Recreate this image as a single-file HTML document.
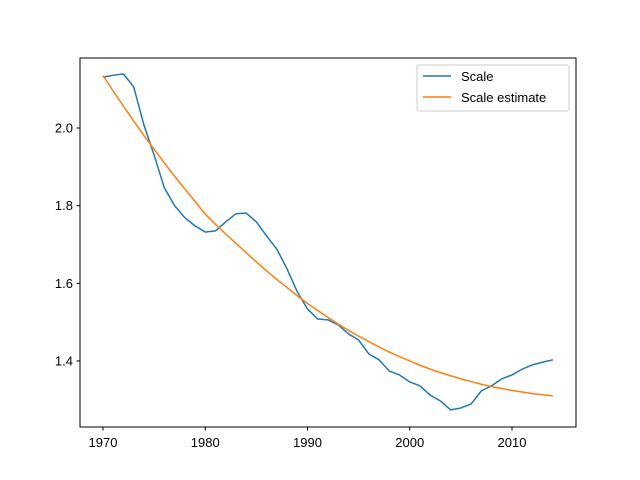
<!DOCTYPE html>
<html><head><meta charset="utf-8"><style>
body{margin:0;background:#fff}
svg{display:block;font-family:"Liberation Sans","DejaVu Sans",sans-serif}
</style></head><body>
<svg id="chart" width="640" height="480">
<rect x="0" y="0" width="640" height="480" fill="#fff"/>
<g id="plot"></g>
<rect x="80" y="58" width="496" height="369" fill="none" stroke="#000" stroke-width="1"/>
<g>
<rect x="417" y="65" width="152" height="46" rx="2" fill="#fff" fill-opacity="0.8" stroke="#ccc"/>
<g><line x1="423" y1="76" x2="451" y2="76" stroke="#1f77b4" stroke-width="1.5"/><text x="461" y="81" font-size="13">Scale</text></g>
<g><line x1="423" y1="97" x2="451" y2="97" stroke="#ff7f0e" stroke-width="1.5"/><text x="461" y="102" font-size="13">Scale estimate</text></g>
</g>
</svg>
<script>
const years=[1970,1971,1972,1973,1974,1975,1976,1977,1978,1979,1980,1981,1982,1983,1984,1985,1986,1987,1988,1989,1990,1991,1992,1993,1994,1995,1996,1997,1998,1999,2000,2001,2002,2003,2004,2005,2006,2007,2008,2009,2010,2011,2012,2013,2014];
const scale=[2.131,2.136,2.139,2.106,2.008,1.930,1.846,1.800,1.769,1.748,1.732,1.735,1.758,1.779,1.781,1.758,1.722,1.688,1.637,1.578,1.534,1.508,1.506,1.493,1.470,1.454,1.418,1.403,1.374,1.364,1.346,1.336,1.312,1.297,1.274,1.279,1.289,1.323,1.336,1.354,1.364,1.379,1.390,1.397,1.403];
const scaleEstimate=[2.135,2.095,2.056,2.018,1.981,1.945,1.910,1.876,1.843,1.811,1.778,1.752,1.727,1.703,1.679,1.655,1.632,1.610,1.589,1.568,1.548,1.530,1.512,1.495,1.479,1.464,1.450,1.436,1.423,1.411,1.400,1.389,1.379,1.370,1.362,1.354,1.347,1.340,1.334,1.329,1.324,1.320,1.316,1.313,1.310];
const xTicks=[1970,1980,1990,2000,2010];
const yTicks=[1.4,1.6,1.8,2.0];
const yTickLabels=["1.4","1.6","1.8","2.0"];
const X=v=>103+(v-1970)*10.225;
const Y=v=>128-(v-2.0)*388.3;
const NS="http://www.w3.org/2000/svg";
const g=document.getElementById('plot');
function mk(t,a){const e=document.createElementNS(NS,t);for(const k in a)e.setAttribute(k,a[k]);g.appendChild(e);return e;}
xTicks.forEach(t=>{
 const l=mk('line',{x1:X(t),x2:X(t),y1:427,y2:430.5,stroke:'#000'});
 
 
 const tx=mk('text',{x:X(t),y:447,'font-size':13,'text-anchor':'middle'});tx.textContent=t;
 
 
});
yTicks.forEach((t,i)=>{
 const l=mk('line',{x1:76.5,x2:80,y1:Y(t),y2:Y(t),stroke:'#000'});
 
 
 const tx=mk('text',{x:73,y:Y(t)+4.5,'font-size':13,'text-anchor':'end'});tx.textContent=yTickLabels[i];
 
 
});
function line(vals,color,name){
 const p=mk('polyline',{points:vals.map((v,i)=>X(years[i])+','+Y(v)).join(' '),fill:'none',stroke:color,'stroke-width':1.5,'stroke-linejoin':'round'});
 
 
}
line(scale,'#1f77b4','scale-line');
line(scaleEstimate,'#ff7f0e','scale-estimate-line');
</script>
</body></html>
